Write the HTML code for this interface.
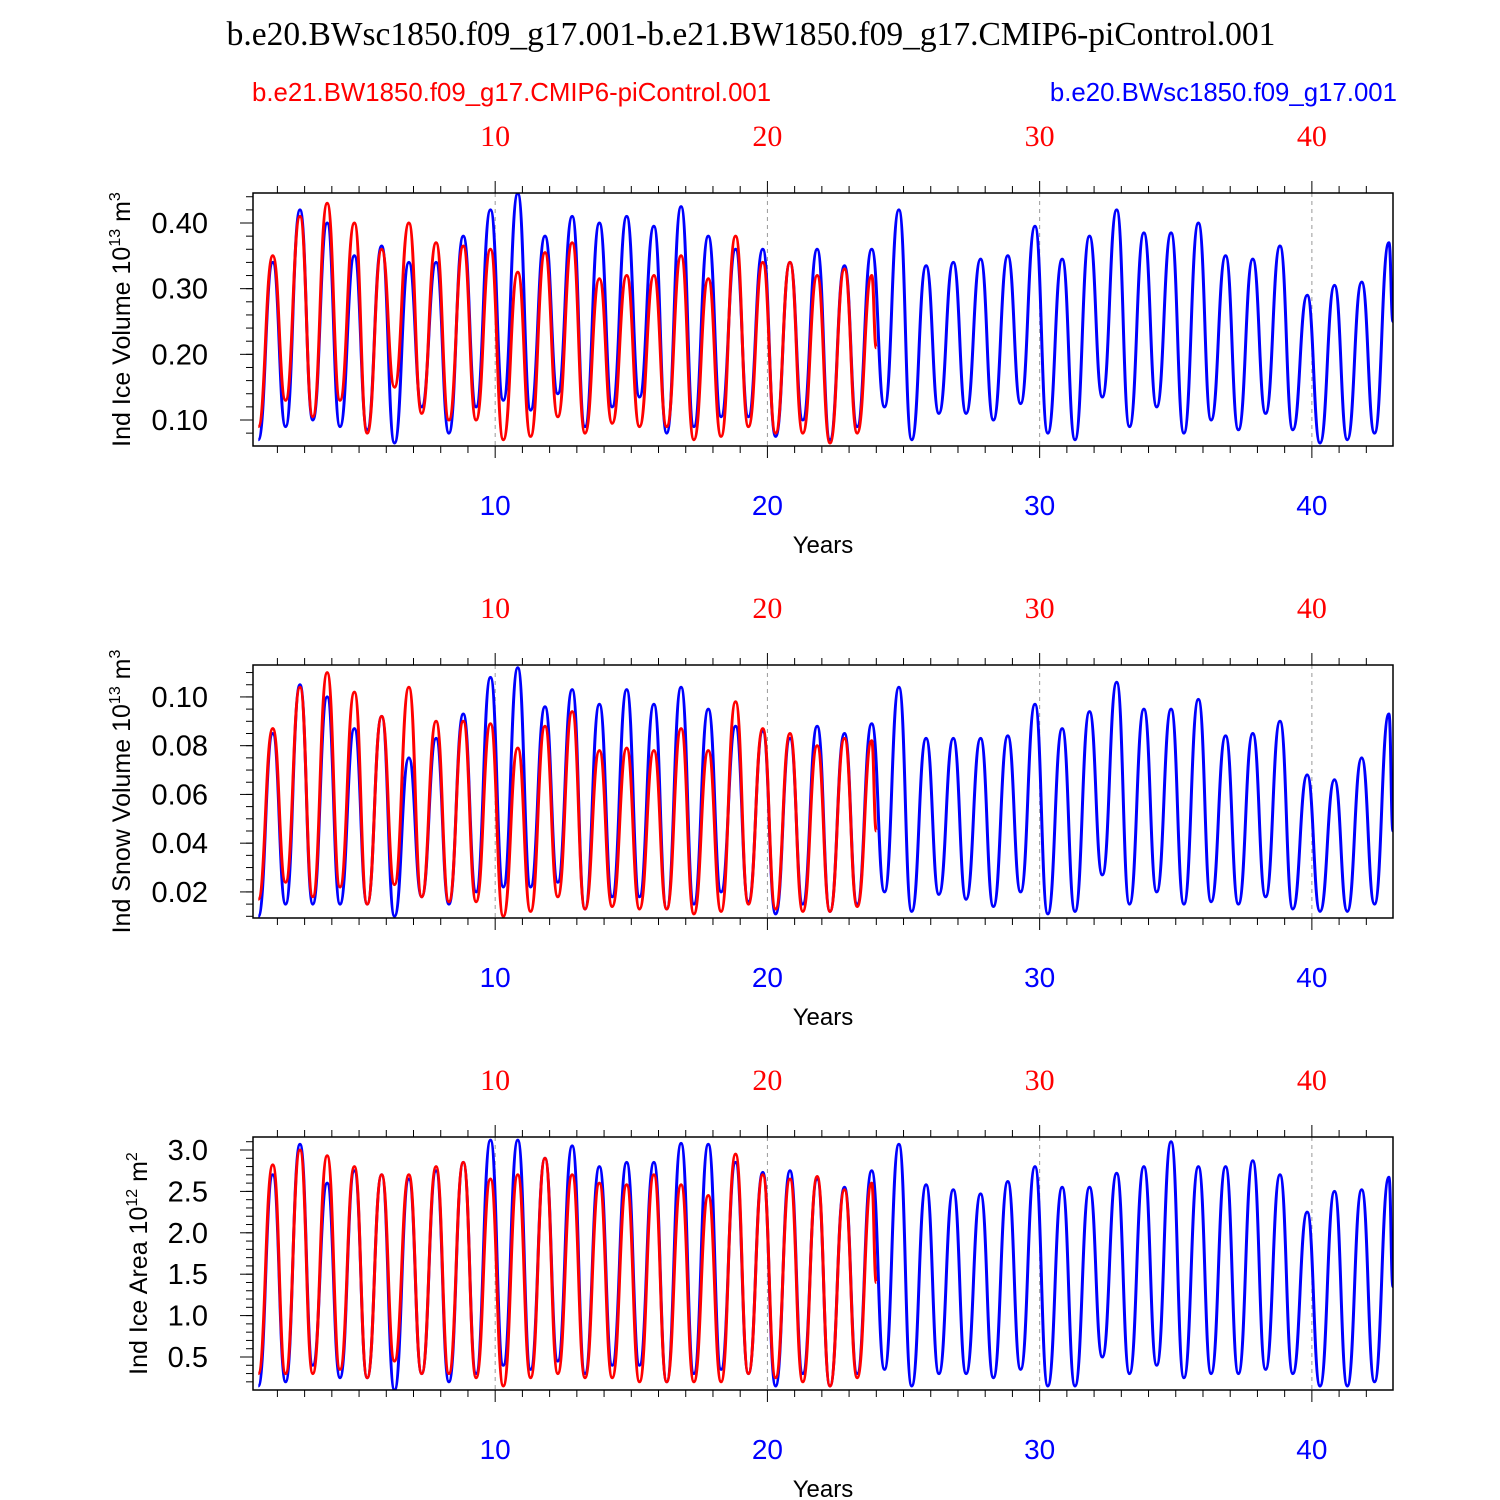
<!DOCTYPE html>
<html><head><meta charset="utf-8"><style>
html,body{margin:0;padding:0;background:#fff;}
svg{display:block;}
</style></head><body>
<svg id="chart" width="1500" height="1500" xmlns="http://www.w3.org/2000/svg" font-family="Liberation Sans, sans-serif">
<text x="751" y="45" text-anchor="middle" font-family="Liberation Serif, serif" font-size="33.5">b.e20.BWsc1850.f09_g17.001-b.e21.BW1850.f09_g17.CMIP6-piControl.001</text>
<text x="252" y="101" fill="#f00" font-size="25.8">b.e21.BW1850.f09_g17.CMIP6-piControl.001</text>
<text x="1397" y="101" fill="#00f" font-size="25.8" text-anchor="end">b.e20.BWsc1850.f09_g17.001</text>
<defs id="defs"></defs>
<g id="panels"></g>
</svg>
<script>
// x-axis data
const xTicks = [10, 20, 30, 40];
// Panel 1: Ice volume
const iceVolBluePeaks = [0.34,0.42,0.40,0.35,0.365,0.34,0.34,0.38,0.42,0.445,0.38,0.41,0.40,0.41,0.395,0.425,0.38,0.36,0.36,0.34,0.36,0.335,0.36,0.42,0.335,0.34,0.345,0.35,0.395,0.345,0.38,0.42,0.385,0.385,0.40,0.35,0.345,0.365,0.29,0.305,0.31,0.37];
const iceVolBlueTroughs = [0.07,0.09,0.10,0.09,0.085,0.065,0.12,0.08,0.12,0.13,0.115,0.14,0.09,0.12,0.135,0.08,0.09,0.105,0.105,0.075,0.10,0.07,0.09,0.12,0.07,0.11,0.11,0.10,0.125,0.08,0.07,0.135,0.09,0.12,0.08,0.10,0.085,0.11,0.085,0.065,0.07,0.08];
const iceVolBlueEnd = 0.25;
const iceVolRedPeaks = [0.35,0.41,0.43,0.40,0.36,0.40,0.37,0.365,0.36,0.325,0.355,0.37,0.315,0.32,0.32,0.35,0.315,0.38,0.34,0.34,0.32,0.33,0.32];
const iceVolRedTroughs = [0.09,0.13,0.105,0.13,0.08,0.15,0.11,0.10,0.10,0.07,0.075,0.105,0.08,0.095,0.09,0.09,0.07,0.075,0.09,0.08,0.08,0.065,0.08];
const iceVolRedEnd = 0.21;
const iceVolTicks = [0.10,0.20,0.30,0.40];
const iceVolTickLabels = ["0.10","0.20","0.30","0.40"];
// Panel 2: Snow volume
const snowBluePeaks = [0.085,0.105,0.10,0.087,0.092,0.075,0.083,0.093,0.108,0.112,0.096,0.103,0.097,0.103,0.097,0.104,0.095,0.088,0.086,0.083,0.088,0.085,0.089,0.104,0.083,0.083,0.083,0.084,0.097,0.087,0.094,0.106,0.095,0.095,0.099,0.084,0.085,0.09,0.068,0.066,0.075,0.093];
const snowBlueTroughs = [0.01,0.015,0.015,0.015,0.015,0.01,0.018,0.015,0.02,0.022,0.022,0.024,0.013,0.018,0.018,0.013,0.015,0.02,0.016,0.011,0.015,0.012,0.015,0.02,0.012,0.019,0.017,0.014,0.02,0.011,0.012,0.027,0.015,0.02,0.015,0.016,0.015,0.018,0.013,0.012,0.012,0.015];
const snowBlueEnd = 0.045;
const snowRedPeaks = [0.087,0.104,0.11,0.102,0.092,0.104,0.09,0.09,0.089,0.079,0.088,0.094,0.078,0.079,0.078,0.087,0.078,0.098,0.087,0.085,0.08,0.083,0.082];
const snowRedTroughs = [0.017,0.024,0.018,0.022,0.015,0.023,0.018,0.016,0.016,0.01,0.012,0.018,0.013,0.014,0.013,0.013,0.011,0.012,0.015,0.013,0.012,0.012,0.014];
const snowRedEnd = 0.045;
const snowTicks = [0.02,0.04,0.06,0.08,0.10];
const snowTickLabels = ["0.02","0.04","0.06","0.08","0.10"];
// Panel 3: Ice area
const areaBluePeaks = [2.7,3.07,2.6,2.75,2.7,2.65,2.75,2.85,3.12,3.12,2.9,3.05,2.8,2.85,2.85,3.08,3.07,2.85,2.73,2.75,2.65,2.55,2.75,3.07,2.58,2.52,2.47,2.62,2.8,2.55,2.55,2.72,2.8,3.1,2.8,2.8,2.87,2.7,2.25,2.5,2.52,2.67];
const areaBlueTroughs = [0.15,0.2,0.4,0.25,0.25,0.1,0.3,0.2,0.3,0.4,0.35,0.45,0.3,0.4,0.4,0.2,0.3,0.35,0.3,0.15,0.3,0.15,0.3,0.35,0.15,0.3,0.3,0.25,0.35,0.15,0.15,0.5,0.3,0.4,0.25,0.3,0.3,0.35,0.3,0.15,0.15,0.2];
const areaBlueEnd = 1.35;
const areaRedPeaks = [2.82,3.0,2.93,2.8,2.7,2.7,2.8,2.85,2.65,2.7,2.9,2.7,2.6,2.58,2.7,2.58,2.45,2.95,2.7,2.65,2.68,2.52,2.6];
const areaRedTroughs = [0.3,0.3,0.3,0.35,0.25,0.45,0.3,0.3,0.25,0.15,0.25,0.3,0.25,0.25,0.2,0.2,0.2,0.2,0.3,0.25,0.2,0.15,0.25];
const areaRedEnd = 1.4;
const areaTicks = [0.5,1.0,1.5,2.0,2.5,3.0];
const areaTickLabels = ["0.5","1.0","1.5","2.0","2.5","3.0"];

const NS = "http://www.w3.org/2000/svg";
const X0 = 253, X1 = 1393, XMIN = 1.104, XMAX = 42.98;
function xs(v){ return X0 + (v - XMIN) / (XMAX - XMIN) * (X1 - X0); }
function mk(tag, attrs, parent){ const e = document.createElementNS(NS, tag); for (const k in attrs) e.setAttribute(k, attrs[k]); parent.appendChild(e); return e; }

const panels = [
  {name:"ice-volume", off:0, ymin:0.0604, ymax:0.4457, ticks:iceVolTicks, labels:iceVolTickLabels, minor:0.02, title:["Ind Ice Volume 10","13"," m","3"],
   bp:iceVolBluePeaks, bt:iceVolBlueTroughs, be:iceVolBlueEnd, rp:iceVolRedPeaks, rt:iceVolRedTroughs, re:iceVolRedEnd, tx:130},
  {name:"snow-volume", off:472, ymin:0.0093, ymax:0.1131, ticks:snowTicks, labels:snowTickLabels, minor:0.005, title:["Ind Snow Volume 10","13"," m","3"],
   bp:snowBluePeaks, bt:snowBlueTroughs, be:snowBlueEnd, rp:snowRedPeaks, rt:snowRedTroughs, re:snowRedEnd, tx:130},
  {name:"ice-area", off:944, ymin:0.1014, ymax:3.157, ticks:areaTicks, labels:areaTickLabels, minor:0.1, title:["Ind Ice Area 10","12"," m","2"],
   bp:areaBluePeaks, bt:areaBlueTroughs, be:areaBlueEnd, rp:areaRedPeaks, rt:areaRedTroughs, re:areaRedEnd, tx:147}
];
const root = document.getElementById('panels');
const defs = document.getElementById('defs');

panels.forEach((p, pi) => {
  const top = 193 + p.off, bot = 446 + p.off;
  const ys = v => bot - (v - p.ymin) / (p.ymax - p.ymin) * (bot - top);
  const cp = mk('clipPath', {id:'clip' + pi}, defs);
  mk('rect', {x:X0, y:top, width:X1 - X0, height:bot - top}, cp);
  const g = mk('g', {}, root);
  
  
  xTicks.forEach(t => {
    const l = mk('line', {x1:xs(t), x2:xs(t), y1:top, y2:bot, stroke:'#999', 'stroke-width':1, 'stroke-dasharray':'4,4'}, g);
    
    
  });
  for (let yr = 2; yr <= 42; yr++) {
    const major = yr % 10 === 0;
    const len = major ? 12 : 7;
    mk('line', {x1:xs(yr), x2:xs(yr), y1:top, y2:top - len, stroke:'#000', 'stroke-width':1}, g);
    mk('line', {x1:xs(yr), x2:xs(yr), y1:bot, y2:bot + len, stroke:'#000', 'stroke-width':1}, g);
  }
  const start = Math.ceil(p.ymin / p.minor - 1e-6);
  for (let i = start; i * p.minor <= p.ymax + 1e-9; i++) {
    const v = i * p.minor;
    mk('line', {x1:X0, x2:X0 - 7, y1:ys(v), y2:ys(v), stroke:'#000', 'stroke-width':1}, g);
  }
  p.ticks.forEach((t, i) => {
    mk('line', {x1:X0, x2:X0 - 13, y1:ys(t), y2:ys(t), stroke:'#000', 'stroke-width':1}, g);
    const tl = mk('text', {x:X0 - 45, y:ys(t) + 10, 'text-anchor':'end', 'font-size':29}, g);
    
    
    tl.textContent = p.labels[i];
  });
  xTicks.forEach(t => {
    const r = mk('text', {x:xs(t), y:top - 47, 'text-anchor':'middle', 'font-size':30, fill:'#f00', 'font-family':'Liberation Serif, serif'}, g);
    
    
    r.textContent = t;
    const b = mk('text', {x:xs(t), y:bot + 69, 'text-anchor':'middle', 'font-size':28, fill:'#00f'}, g);
    
    
    b.textContent = t;
  });
  const xt = mk('text', {x:823, y:bot + 107, 'text-anchor':'middle', 'font-size':24}, g);
  
  
  xt.textContent = 'Years';
  const cy = (top + bot) / 2;
  const yt = mk('text', {x:0, y:0, 'text-anchor':'middle', 'font-size':25, transform:`translate(${p.tx},${cy}) rotate(-90)`}, g);
  
  
  const parts = p.title;
  [[parts[0],0],[parts[1],1],[parts[2],0],[parts[3],1]].forEach(([s, sup]) => {
    const ts = mk('tspan', sup ? {'font-size':16, dy:-10} : {'font-size':25, dy:10}, yt);
    ts.textContent = s;
  });
  yt.firstChild.setAttribute('dy', 0);
  function series(peaks, troughs, endVal, color, name) {
    const pts = [];
    for (let n = 1; n <= peaks.length; n++) {
      pts.push([n + 0.3, troughs[n - 1]]);
      pts.push([n + 0.83, peaks[n - 1]]);
    }
    if (name === 'blue') pts.push([XMAX, endVal]);
    else pts.push([peaks.length + 1.0, endVal]);
    let d = `M${xs(pts[0][0]).toFixed(1)},${ys(pts[0][1]).toFixed(1)}`;
    for (let i = 1; i < pts.length; i++) {
      const xa = xs(pts[i-1][0]), ya = ys(pts[i-1][1]), xb = xs(pts[i][0]), yb = ys(pts[i][1]);
      const dx = (xb - xa) / 2;
      d += ` C${(xa+dx).toFixed(1)},${ya.toFixed(1)} ${(xb-dx).toFixed(1)},${yb.toFixed(1)} ${xb.toFixed(1)},${yb.toFixed(1)}`;
    }
    const path = mk('path', {d:d, fill:'none', stroke:color, 'stroke-width':3, 'stroke-linejoin':'round', 'clip-path':`url(#clip${pi})`}, g);
    
    
  }
  series(p.bp, p.bt, p.be, '#00f', 'blue');
  series(p.rp, p.rt, p.re, '#f00', 'red');
  const frame = mk('rect', {x:X0, y:top, width:X1 - X0, height:bot - top, fill:'none', stroke:'#000', 'stroke-width':1.5}, g);
  
  
});
</script>
</body></html>
